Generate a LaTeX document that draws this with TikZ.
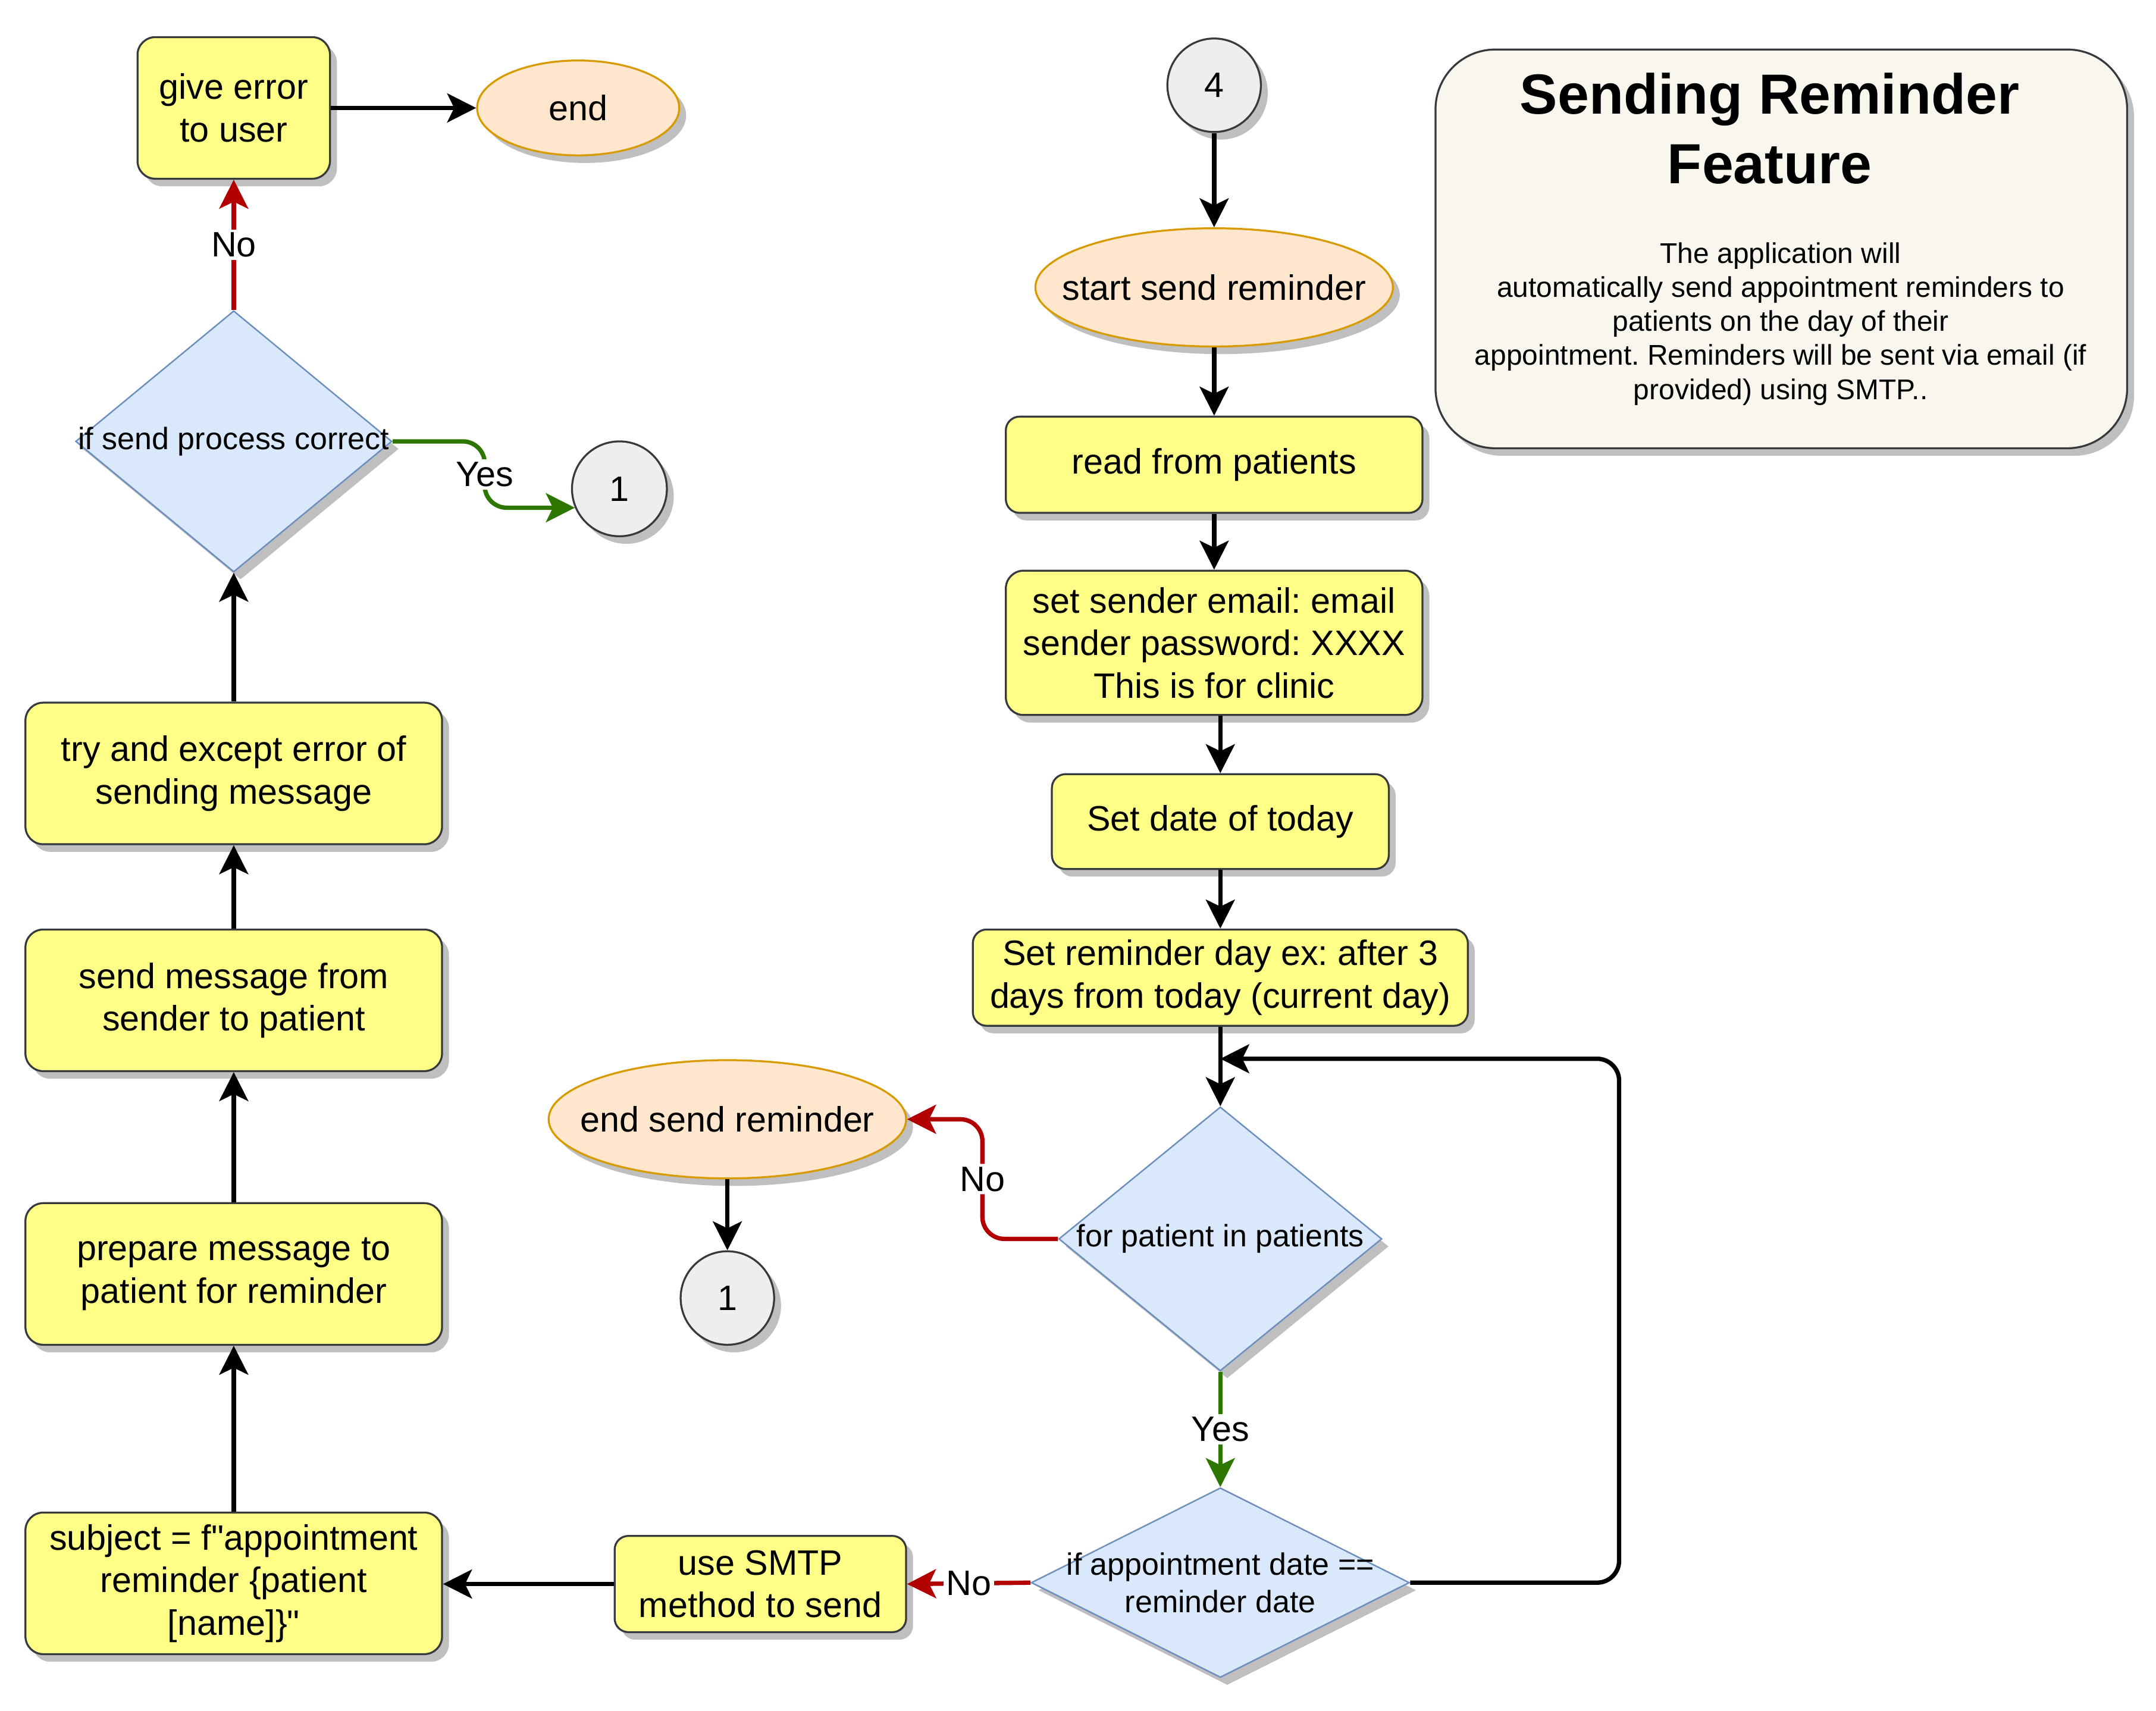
\documentclass[tikz,border=0pt]{standalone}
\usepackage{fontspec}
\setmainfont{Liberation Sans}[Ligatures=TeXOff]
\frenchspacing
\usetikzlibrary{arrows.meta,shapes.geometric,shadows}
\definecolor{boxfill}{HTML}{FFFF88}
\definecolor{darkline}{HTML}{36393D}
\definecolor{termfill}{HTML}{FFE6CC}
\definecolor{termline}{HTML}{D79B00}
\definecolor{decfill}{HTML}{DAE8FC}
\definecolor{decline}{HTML}{6C8EBF}
\definecolor{connfill}{HTML}{EEEEEE}
\definecolor{infofill}{HTML}{F9F7ED}
\definecolor{nored}{HTML}{B20000}
\definecolor{yesgreen}{HTML}{2D7600}
\newcommand\mainsize{\fontsize{7.3}{8.8}\selectfont}
\newcommand\decsize{\fontsize{6.4}{7.7}\selectfont}
\newcommand\descsize{\fontsize{5.9}{7.05}\selectfont}
\newcommand\titlesize{\fontsize{11.7}{14.5}\selectfont\bfseries}
\tikzset{
  shadowed/.style={drop shadow={shadow xshift=.05cm,shadow yshift=-.055cm,fill=black!25,opacity=1}},
  proc/.style={draw=darkline,line width=.4pt,fill=boxfill,rounded corners=.13cm,align=center,inner sep=0pt,font=\mainsize,shadowed},
  term/.style={ellipse,draw=termline,line width=.4pt,fill=termfill,inner sep=0pt,shadowed,label={[font=\mainsize]center:#1}},
  decision/.style={diamond,draw=decline,line width=.3pt,fill=decfill,inner sep=0pt,shadowed,label={[font=\decsize,align=center]center:#1}},
  conn/.style={circle,draw=darkline,line width=.4pt,fill=connfill,inner sep=0pt,font=\mainsize,shadowed},
  infobox/.style={draw=darkline,line width=.4pt,fill=infofill,rounded corners=.435cm,shadowed},
  flow/.style={->,line width=.9pt},
  nopath/.style={flow,draw=nored},
  yespath/.style={flow,draw=yesgreen},
  lbl/.style={fill=white,font=\mainsize,inner sep=.6pt},
  >={Stealth[length=.21cm,width=.21cm,inset=.05cm]}
}
\begin{document}
\begin{tikzpicture}
\useasboundingbox (0,0) rectangle (15.68,-12.44);
%left column
\node[proc,minimum width=1.40cm,minimum height=1.03cm] (err) at (1.70,-.785) {give error\\to user};
\node[term={end},minimum width=1.47cm,minimum height=.69cm] (fin) at (4.205,-.785) {};
\node[decision={if send process correct},minimum width=2.30cm,minimum height=1.90cm] (chk) at (1.70,-3.21) {};
\node[conn,minimum size=.69cm] (onea) at (4.505,-3.555) {1};
\node[proc,minimum width=3.03cm,minimum height=1.03cm] (try) at (1.70,-5.625) {try and except error of\\sending message};
\node[proc,minimum width=3.03cm,minimum height=1.03cm] (sendmsg) at (1.70,-7.275) {send message from\\sender to patient};
\node[proc,minimum width=3.03cm,minimum height=1.03cm] (prep) at (1.70,-9.265) {prepare message to\\patient for reminder};
\node[proc,minimum width=3.03cm,minimum height=1.03cm] (subj) at (1.70,-11.515) {subject = f"appointment\\reminder \{patient\\{}[name]\}"};
\node[proc,minimum width=2.12cm,minimum height=.70cm,rounded corners=.1cm] (smtp) at (5.53,-11.52) {use SMTP\\method to send};
%right column
\node[conn,minimum size=.68cm] (four) at (8.83,-.62) {4};
\node[term={start send reminder},minimum width=2.60cm,minimum height=.86cm] (start) at (8.83,-2.09) {};
\node[proc,minimum width=3.03cm,minimum height=.70cm,rounded corners=.1cm] (read) at (8.83,-3.38) {read from patients};
\node[proc,minimum width=3.03cm,minimum height=1.05cm] (sender) at (8.83,-4.675) {set sender email: email\\sender password: XXXX\\This is for clinic};
\node[proc,minimum width=2.45cm,minimum height=.69cm,rounded corners=.1cm] (today) at (8.875,-5.975) {Set date of today};
\node[proc,minimum width=3.60cm,minimum height=.70cm,rounded corners=.1cm] (remday) at (8.875,-7.11) {Set reminder day ex: after 3\\days from today (current day)};
\node[decision={for patient in patients},minimum width=2.35cm,minimum height=1.92cm] (loop) at (8.875,-9.01) {};
\node[term={end send reminder},minimum width=2.60cm,minimum height=.86cm] (stop) at (5.29,-8.14) {};
\node[conn,minimum size=.68cm] (oneb) at (5.29,-9.44) {1};
\node[decision={if appointment date ==\\reminder date},minimum width=2.75cm,minimum height=1.38cm] (appt) at (8.875,-11.51) {};
\coordinate (back) at (8.875,-7.70);
%info box
\node[infobox,minimum width=5.03cm,minimum height=2.90cm] (info) at (12.955,-1.81) {};
\node[font=\titlesize,align=center] (title) at (12.87,-.935) {Sending Reminder\\Feature};
\node[font=\descsize,align=center] (desc) at (12.95,-2.355) {The application will\\automatically send appointment reminders to\\patients on the day of their\\appointment. Reminders will be sent via email (if\\provided) using SMTP..};
%connectors
\draw[flow] (err.east) -- (fin.west);
\draw[nopath] (chk.north) -- node[lbl]{No} (err.south);
\draw[yespath,rounded corners=.16cm] (chk.east) -- ++(.67,0) |- node[lbl,pos=.25]{Yes} (onea.203);
\draw[flow] (try.north) -- (chk.south);
\draw[flow] (sendmsg.north) -- (try.south);
\draw[flow] (prep.north) -- (sendmsg.south);
\draw[flow] (subj.north) -- (prep.south);
\draw[flow] (smtp.west) -- (smtp.west -| subj.east);
\draw[flow] (four.south) -- (start.north);
\draw[flow] (start.south) -- (read.north);
\draw[flow] (read.south) -- (sender.north);
\draw[flow] (sender.south -| today.north) -- (today.north);
\draw[flow] (today.south) -- (remday.north);
\draw[flow] (remday.south) -- (loop.north);
\draw[nopath,rounded corners=.16cm] (loop.west) -- ++(-.55,0) |- node[lbl,pos=.25]{No} (stop.east);
\draw[flow] (stop.south) -- (oneb.north);
\draw[yespath] (loop.south) -- node[lbl]{Yes} (appt.north);
\draw[nopath] (appt.west) -- node[lbl]{No} (smtp.east);
\draw[flow,rounded corners=.16cm] (appt.east) -- ++(1.52,0) |- (back);
\end{tikzpicture}
\end{document}
